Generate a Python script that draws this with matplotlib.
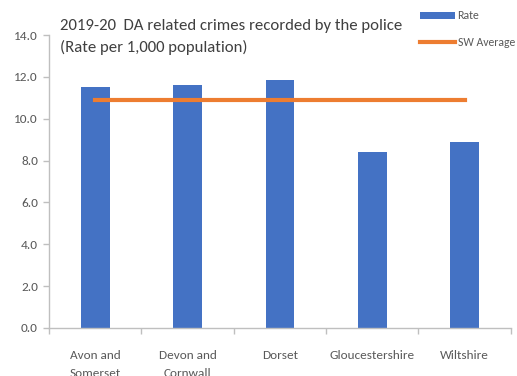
import matplotlib.pyplot as plt
import numpy as np

plt.rcParams['font.family'] = ['Carlito', 'Liberation Sans Narrow', 'DejaVu Sans']

areas = ['Avon and\nSomerset', 'Devon and\nCornwall', 'Dorset', 'Gloucestershire', 'Wiltshire']
rate = [11.5, 11.6, 11.85, 8.4, 8.9]
sw_average = [10.9, 10.9, 10.9, 10.9, 10.9]
y_ticks = [0, 2, 4, 6, 8, 10, 12, 14]

blue = '#4472C4'
orange = '#ED7D31'
grey = '#BFBFBF'
text_grey = '#595959'

fig = plt.figure(figsize=(5.17, 3.76), dpi=100)
ax = fig.add_axes([0.0948, 0.1277, 0.8932, 0.7792])

x = np.arange(len(areas))
bars = ax.bar(x, rate, width=0.31, color=blue, label='Rate', zorder=2)
line, = ax.plot(x, sw_average, color=orange, linewidth=3, label='SW Average', zorder=3)

ax.set_xlim(-0.5, len(areas) - 0.5)
ax.set_ylim(0, 14)
ax.set_yticks(y_ticks)
ax.set_yticklabels([f'{v:.1f}' for v in y_ticks])

# category labels centred, tick marks on the boundaries
ax.set_xticks(x)
ax.set_xticklabels(areas, linespacing=1.75, va='top')
ax.set_xticks(np.arange(-0.5, len(areas), 1), minor=True)
ax.tick_params(axis='x', which='major', length=0, pad=16, labelsize=9.5)
ax.tick_params(axis='x', which='minor', length=4, color=grey, width=1)
ax.tick_params(axis='y', length=4, color=grey, width=1, labelsize=9.5, pad=4)
for lab in ax.get_yticklabels() + ax.get_xticklabels():
    lab.set_color(text_grey)

for side in ['top', 'right']:
    ax.spines[side].set_visible(False)
for side in ['left', 'bottom']:
    ax.spines[side].set_color(grey)
    ax.spines[side].set_linewidth(1)

fig.text(0.116, 0.95, '2019-20  DA related crimes recorded by the police\n(Rate per 1,000 population)',
         fontsize=12.1, color='#404040', va='top', ha='left', linespacing=1.6)

ax.legend([bars, line], ['Rate', 'SW Average'], loc='upper left', bbox_to_anchor=(0.78, 1.12),
          frameon=False, fontsize=8.5, handlelength=3.0, handleheight=0.55,
          handletextpad=0.2, labelspacing=1.3, labelcolor=text_grey)

fig.savefig('out.png', dpi=100)
